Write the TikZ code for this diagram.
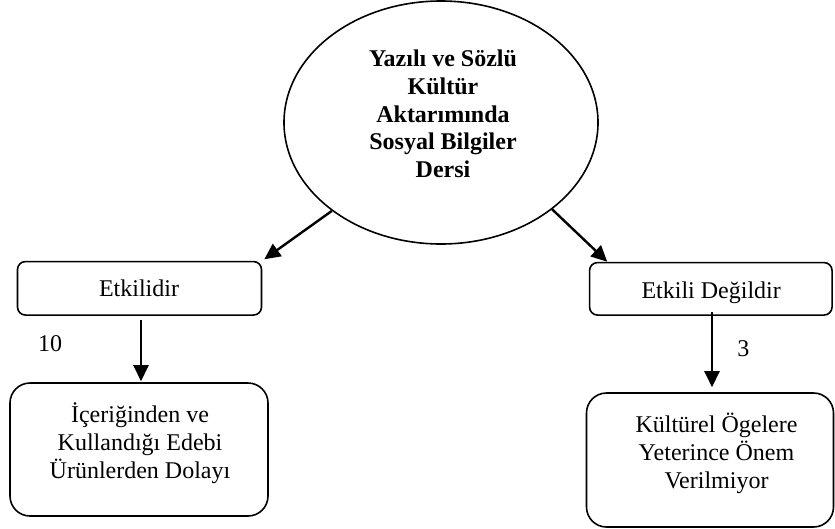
\documentclass[tikz,border=0pt]{standalone}
\usepackage{fontspec}
\setmainfont{Liberation Serif}
\usetikzlibrary{shapes.geometric,arrows.meta}
\begin{document}
\begin{tikzpicture}[x=1pt,y=-1pt,
  txt/.style={font=\fontsize{24}{27.75}\selectfont, inner sep=0pt, align=center},
  btxt/.style={font=\fontsize{24}{27.75}\selectfont\bfseries, inner sep=0pt, align=center},
  ell/.style={ellipse, draw, line width=1.6pt, minimum width=314pt, minimum height=243pt, inner sep=0pt},
  sbox/.style={draw, rounded corners=8pt, line width=1.6pt, inner sep=0pt},
  bbox/.style={draw, rounded corners=20pt, line width=1.6pt, inner sep=0pt},
  arr/.style={line width=2.4pt, -{Triangle[length=16pt,width=15pt]}}]
\useasboundingbox (0,0) rectangle (835,528);
\node[ell] (root) at (441,122.5) {};
\node[btxt] (troot) at (443,113.8) {Yazılı ve Sözlü\\Kültür\\Aktarımında\\Sosyal Bilgiler\\Dersi};
\node[sbox, minimum width=244pt, minimum height=53.5pt] (box1) at (139.5,288.3) {};
\node[sbox, minimum width=242.5pt, minimum height=52.5pt] (box3) at (710.8,288.8) {};
\node[bbox, minimum width=258pt, minimum height=133pt] (box2) at (139,449.5) {};
\node[bbox, minimum width=247pt, minimum height=134pt] (box4) at (710,460) {};
\node[txt, anchor=base] (t1) at (139,296.7) {Etkilidir};
\node[txt, anchor=base] (t3) at (711.2,298.3) {Etkili Değildir};
\node[txt] (t2) at (140,443) {İçeriğinden ve\\Kullandığı Edebi\\Ürünlerden Dolayı};
\node[txt] (t4) at (716.5,453.6) {Kültürel Ögelere\\Yeterince Önem\\Verilmiyor};
\node[txt, anchor=base] (n10) at (50,351) {10};
\node[txt, anchor=base] (n3) at (743.3,356) {3};
\draw[arr] (root.219) -- ([xshift=2pt,yshift=1.5pt]box1.north east);
\draw[arr] (root.322) -- ([xshift=18.5pt]box3.north west);
\draw[arr] ([xshift=1.5pt,yshift=-4pt]box1.south) -- ([xshift=2pt,yshift=1pt]box2.north);
\draw[arr] ([xshift=1.2pt,yshift=4pt]box3.south) -- ([xshift=2pt,yshift=5pt]box4.north);
\end{tikzpicture}
\end{document}
